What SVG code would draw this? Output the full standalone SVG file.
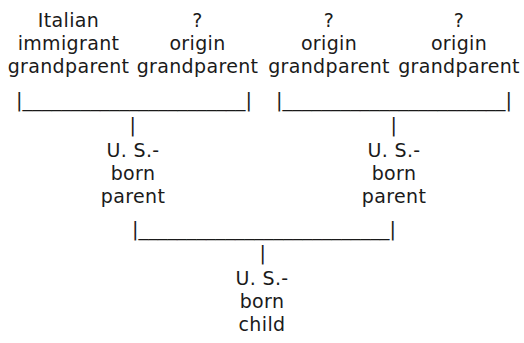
<svg xmlns="http://www.w3.org/2000/svg" width="524" height="343" viewBox="0 0 524 343">
<style>
text { font-family: "DejaVu Sans", Verdana, sans-serif; font-size: 19px; fill: #1a1a1a; text-anchor: middle; letter-spacing: 0.35px; }
.bar { text-anchor: start; letter-spacing: 0; }
</style>
<rect width="524" height="343" fill="#fff"/>
<g id="gp1"><text x="68.5" y="27">Italian</text><text x="68.5" y="50">immigrant</text><text x="68.5" y="73">grandparent</text></g>
<g id="gp2"><text x="197.5" y="27">?</text><text x="197.5" y="50">origin</text><text x="197.5" y="73">grandparent</text></g>
<g id="gp3"><text x="329" y="27">?</text><text x="329" y="50">origin</text><text x="329" y="73">grandparent</text></g>
<g id="gp4"><text x="459" y="27">?</text><text x="459" y="50">origin</text><text x="459" y="73">grandparent</text></g>
<g id="parent1"><text x="133" y="157">U. S.-</text><text x="133" y="180">born</text><text x="133" y="203">parent</text></g>
<g id="parent2"><text x="394" y="157">U. S.-</text><text x="394" y="180">born</text><text x="394" y="203">parent</text></g>
<g id="child"><text x="262" y="285">U. S.-</text><text x="262" y="308">born</text><text x="262" y="331">child</text></g>
<g id="connectors">
<text class="bar" x="16" y="107" textLength="236" lengthAdjust="spacingAndGlyphs">|_______________________|</text>
<text class="bar" x="276" y="107" textLength="236" lengthAdjust="spacingAndGlyphs">|_______________________|</text>
<text x="133" y="132">|</text>
<text x="394" y="132">|</text>
<text class="bar" x="132" y="236" textLength="264" lengthAdjust="spacingAndGlyphs">|__________________________|</text>
<text x="263" y="260">|</text>
</g>
</svg>
